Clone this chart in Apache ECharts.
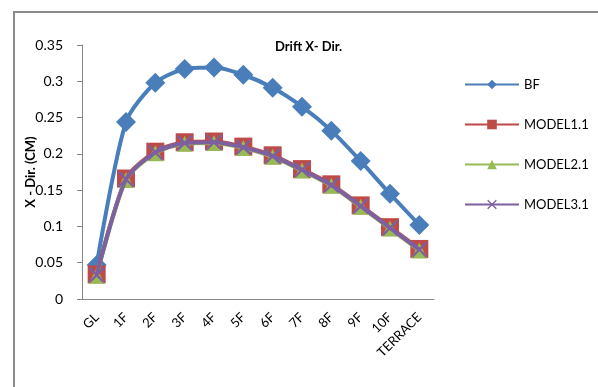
<!DOCTYPE html>
<html>
<head>
<meta charset="utf-8">
<script src="https://cdn.jsdelivr.net/npm/echarts@6/dist/echarts.min.js"></script>
<style>
  html, body { margin: 0; padding: 0; background: #fff; }
  #chart { width: 598px; height: 387px; }
</style>
</head>
<body>
<div id="chart"></div>
<script>
const floors = ['GL', '1F', '2F', '3F', '4F', '5F', '6F', '7F', '8F', '9F', '10F', 'TERRACE']
const bf = [0.047, 0.244, 0.298, 0.317, 0.319, 0.309, 0.291, 0.265, 0.232, 0.190, 0.145, 0.102]
const model11 = [0.034, 0.166, 0.203, 0.216, 0.217, 0.210, 0.198, 0.179, 0.158, 0.129, 0.099, 0.069]
const model21 = [0.032, 0.164, 0.201, 0.214, 0.215, 0.208, 0.196, 0.177, 0.156, 0.127, 0.097, 0.067]
const model31 = [0.033, 0.165, 0.202, 0.215, 0.216, 0.209, 0.197, 0.178, 0.157, 0.128, 0.098, 0.068]

const font = 'Lato, "Liberation Sans", sans-serif'
const cross = 'path://M1,0L5,4L9,0L10,1L6,5L10,9L9,10L5,6L1,10L0,9L4,5L0,1Z'

let chart = echarts.init(document.getElementById('chart'))

function line(name, data, color, symbol, size, z) {
  return {
    name: name,
    type: 'line',
    data: data,
    smooth: 0.25,
    symbol: symbol,
    symbolSize: size,
    z: z,
    lineStyle: { color: color, width: 4 },
    itemStyle: { color: color, borderWidth: 0 },
    emphasis: { disabled: true }
  }
}

chart.setOption({
  animation: false,
  textStyle: { fontFamily: font },
  graphic: [{
    type: 'polyline',
    shape: { points: [[14, 400], [14, 12], [610, 12]] },
    style: { stroke: '#8a8a8a', lineWidth: 2, fill: null }
  }],
  title: {
    text: 'Drift X- Dir.',
    left: 270,
    top: 35,
    textStyle: { fontSize: 13, fontWeight: 'bold', color: '#000', fontFamily: font }
  },
  legend: {
    orient: 'vertical',
    left: 459,
    top: 73,
    itemWidth: 54,
    itemHeight: 12,
    itemGap: 27,
    textStyle: { fontSize: 13, color: '#000', fontFamily: font },
    data: ['BF', 'MODEL1.1', 'MODEL2.1', 'MODEL3.1']
  },
  grid: { left: 82, top: 45, width: 352, height: 254, containLabel: false },
  xAxis: {
    type: 'category',
    data: floors,
    boundaryGap: true,
    axisLine: { lineStyle: { color: '#868686', width: 1 } },
    axisTick: { alignWithLabel: false, length: 5, lineStyle: { color: '#868686' } },
    axisLabel: { rotate: 45, color: '#000', fontSize: 13, margin: 16, fontFamily: font, interval: 0 }
  },
  yAxis: {
    type: 'value',
    min: 0,
    max: 0.35,
    interval: 0.05,
    name: 'X - Dir. (CM)',
    nameLocation: 'middle',
    nameGap: 45,
    nameMoveOverlap: false,
    nameRotate: 90,
    nameTextStyle: { fontSize: 13, fontWeight: 'bold', color: '#000', fontFamily: font },
    axisLine: { show: true, lineStyle: { color: '#868686', width: 1 } },
    axisTick: { show: true, length: 5, lineStyle: { color: '#868686' } },
    splitLine: { show: false },
    axisLabel: { color: '#000', fontSize: 14, margin: 19, fontFamily: font,
      formatter: v => String(+v.toFixed(2)) }
  },
  series: [
    line('BF', bf, '#4A7EBB', 'diamond', 20, 2),
    line('MODEL1.1', model11, '#BE4B48', 'rect', 18, 3),
    line('MODEL2.1', model21, '#98B954', 'triangle', 16, 4),
    line('MODEL3.1', model31, '#7D60A0', cross, 16, 5)
  ]
})
</script>
</body>
</html>
